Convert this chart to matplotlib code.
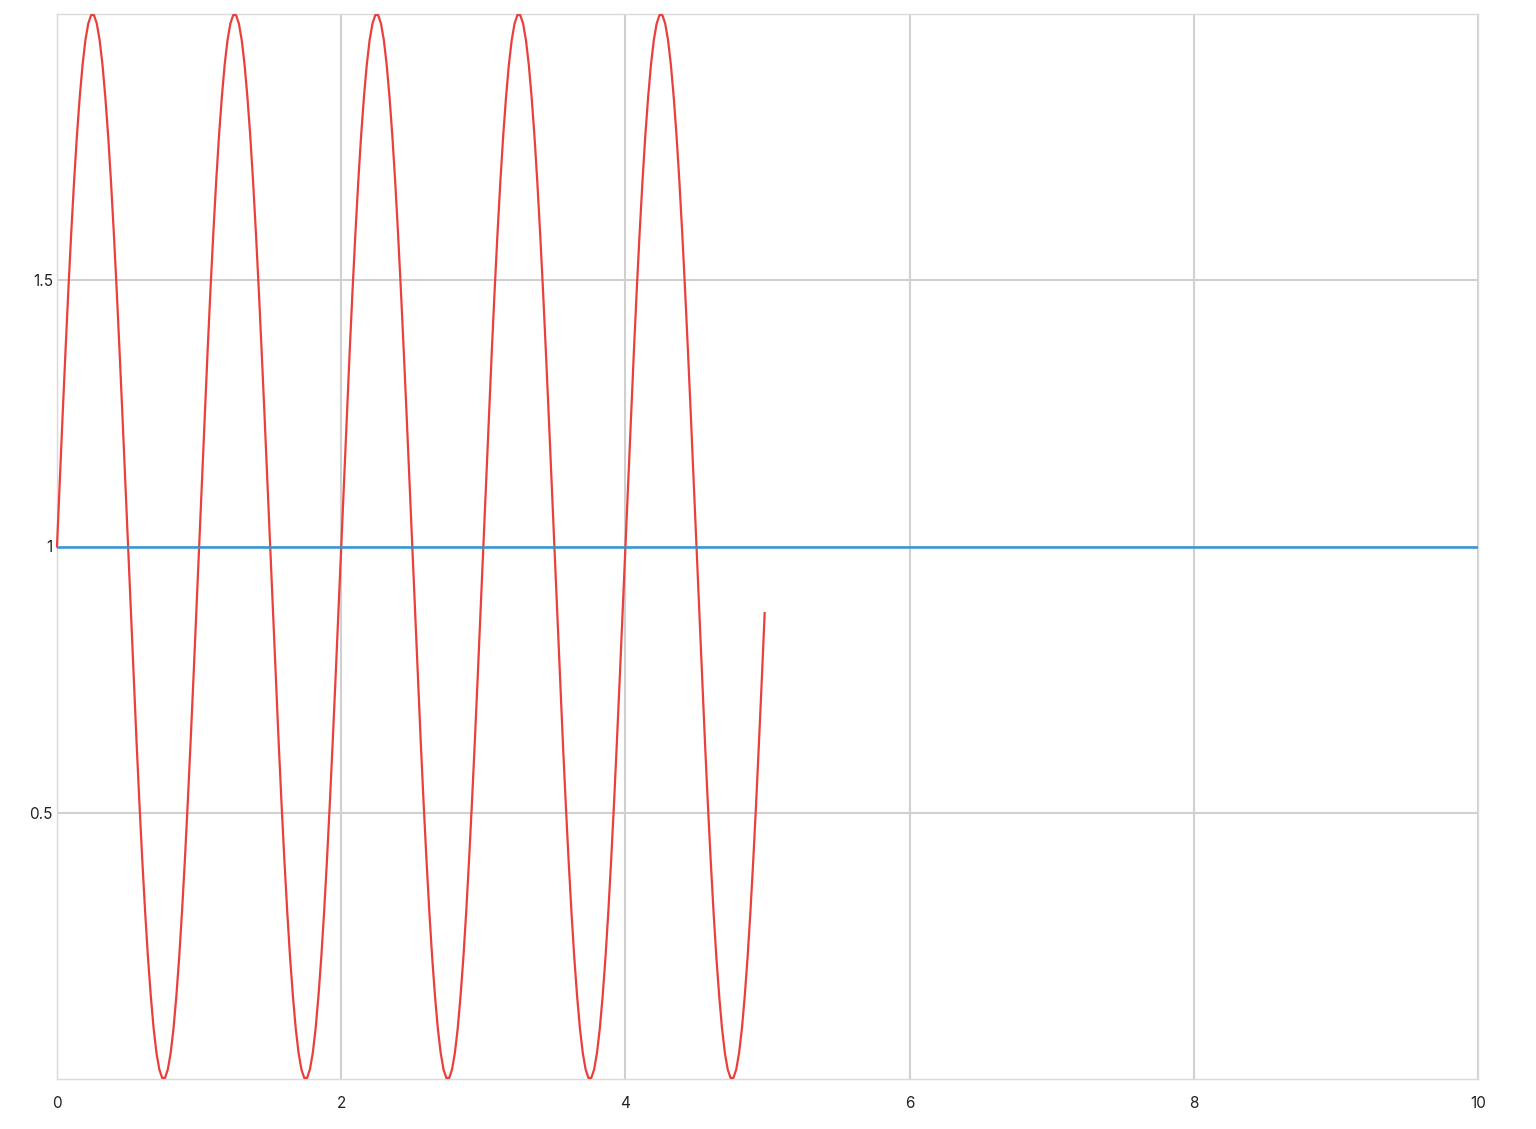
import matplotlib
matplotlib.use("Agg")
import matplotlib.pyplot as plt

period_y = [1.000, 1.125, 1.249, 1.368, 1.482, 1.588, 1.685, 1.771, 1.844, 1.905,
            1.951, 1.982, 1.998, 1.998, 1.982, 1.951, 1.905, 1.844, 1.771, 1.685,
            1.588, 1.482, 1.368, 1.249, 1.125, 1.000, 0.875, 0.751, 0.632, 0.518,
            0.412, 0.315, 0.229, 0.156, 0.095, 0.049, 0.018, 0.002, 0.002, 0.018,
            0.049, 0.095, 0.156, 0.229, 0.315, 0.412, 0.518, 0.632, 0.751, 0.875]
n_periods = 5
x_step = 0.02
wave_y = period_y * n_periods
wave_x = [round(i * x_step, 2) for i in range(len(wave_y))]

level_x = [0, 10]
level_y = [1, 1]

x_ticks = [0, 2, 4, 6, 8, 10]
y_ticks = [0.5, 1, 1.5]
y_labels = ["0.5", "1", "1.5"]

plt.rcParams["font.family"] = ["Inter", "DejaVu Sans"]

fig = plt.figure(figsize=(15.36, 11.29), dpi=100)
ax = fig.add_axes([57 / 1536, 1 - 1079 / 1129, (1478 - 57) / 1536, (1079 - 14) / 1129])

ax.plot(wave_x, wave_y, color="#ea3f3a", lw=1.6, clip_on=False, zorder=3)
ax.plot(level_x, level_y, color="#3196d3", lw=1.8, zorder=4)

ax.set_xlim(0, 10)
ax.set_ylim(0, 2)
ax.set_xticks(x_ticks)
ax.set_xticklabels([str(t) for t in x_ticks])
ax.set_yticks(y_ticks)
ax.set_yticklabels(y_labels)
ax.tick_params(length=0, labelsize=11, colors="#222222")
ax.tick_params(axis="x", pad=12)
ax.tick_params(axis="y", pad=3)
ax.grid(color="#d0d0d0", lw=1.5)
ax.set_axisbelow(True)
for s in ax.spines.values():
    s.set_color("#dadada")
    s.set_linewidth(1)

fig.savefig("out.png", dpi=100)
